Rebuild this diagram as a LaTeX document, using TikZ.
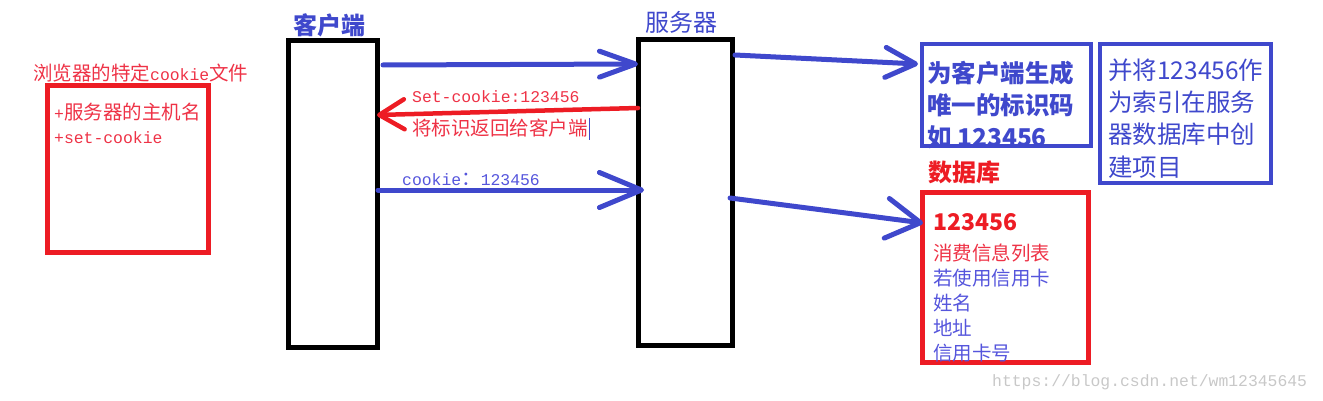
\documentclass[tikz,border=0pt]{standalone}
\usepackage{fontspec}
\newfontfamily\cjk{Noto Sans CJK SC}
\newfontfamily\lat{Liberation Mono}
\usetikzlibrary{arrows.meta}
\definecolor{pblue}{RGB}{63,72,204}
\definecolor{pred}{RGB}{237,28,36}
\definecolor{tred}{RGB}{238,50,70}
\definecolor{tblue}{RGB}{85,85,220}
\definecolor{wgray}{RGB}{200,200,200}
\newcommand{\sm}{\fontsize{19.5}{24}\selectfont\cjk}
\newcommand{\mn}[1]{{\fontsize{16.4}{24}\selectfont\lat #1}}
\tikzset{
  blackbox/.style={draw=black, line width=5pt, inner sep=0pt},
  redbox/.style={draw=pred, line width=5pt, inner sep=0pt},
  bluebox/.style={draw=pblue, line width=4.5pt, inner sep=0pt},
  txt/.style={anchor=west, inner sep=0pt},
  barrow/.style={draw=pblue, line width=5pt, line cap=round},
  rarrow/.style={draw=pred, line width=4.5pt, line cap=round},
}
\begin{document}
\begin{tikzpicture}[x=1pt,y=-1pt]
\useasboundingbox (0,0) rectangle (1323,401);
% boxes
\node[redbox, minimum width=161pt, minimum height=166pt] (cookiefile) at (127.5,169) {};
\node[blackbox, minimum width=89pt, minimum height=307pt] (client) at (333,194) {};
\node[blackbox, minimum width=94pt, minimum height=306pt] (server) at (685.5,192.5) {};
\node[bluebox, minimum width=169pt, minimum height=102pt] (gen) at (1006.5,95) {};
\node[bluebox, minimum width=171pt, minimum height=139pt] (idx) at (1185.5,113.5) {};
\node[redbox, minimum width=166pt, minimum height=170pt] (db) at (1005.5,277.5) {};
% texts
\node[txt, text=tred] (t1) at (33,73) {\sm 浏览器的特定\mn{cookie}文件};
\node[txt, text=tred] (t2) at (54,112) {\sm \mn{+}服务器的主机名};
\node[txt, text=tred] (t3) at (54,138) {\sm \mn{+set-cookie}};
\node[text=pblue, inner sep=0pt] (tc) at (329,25) {\fontsize{24}{28}\selectfont\cjk\bfseries 客户端};
\node[text=pblue, inner sep=0pt] (ts) at (681,22) {\fontsize{24}{28}\selectfont\cjk 服务器};
\node[txt, text=tred] (t4) at (412,97) {\sm \mn{Set-cookie:123456}};
\node[txt, text=tred] (t5) at (412,128) {\sm 将标识返回给客户端};
\node[txt, text=tblue] (t6) at (402,179) {\sm \mn{cookie}：\mn{123456}};
\node[txt, text=pblue, align=left, font={\fontsize{24.5}{32}\selectfont\cjk\bfseries}] (t7) at (927,105) {为客户端生成\\唯一的标识码\\如 123456};
\node[txt, text=pblue, align=left, font={\fontsize{24.5}{32.3}\selectfont\cjk}] (t8) at (1108,118.5) {并将123456作\\为索引在服务\\器数据库中创\\建项目};
\node[text=pred, inner sep=0pt] (tdb) at (964,172) {\fontsize{24}{28}\selectfont\cjk\bfseries 数据库};
\node[txt, text=pred] (t9) at (933,222) {\fontsize{23}{28}\selectfont\cjk\bfseries 123456};
\node[txt, text=tred] (t10) at (933,253) {\sm 消费信息列表};
\node[txt, text=tblue, align=left, font={\fontsize{19.5}{25}\selectfont\cjk}] (t11) at (933,315.5) {若使用信用卡\\姓名\\地址\\信用卡号};
\node[txt, text=wgray] (wm) at (992,382) {\mn{https://blog.csdn.net/wm12345645}};
% connector end points
\coordinate (a1s) at (383,65);
\coordinate (a1e) at (638,64);
\coordinate (a2s) at (638,108);
\coordinate (a2e) at (377,115);
\coordinate (a3s) at (378,190);
\coordinate (a3e) at (644,190);
\coordinate (a4s) at (735,55);
\coordinate (a4e) at (918,64);
\coordinate (a5s) at (730,198);
\coordinate (a5e) at (923,223);
% connectors
\draw[barrow, -{Straight Barb[length=36pt,width=26pt,round]}] (a1s) -- (a1e);
\draw[rarrow, -{Straight Barb[length=25pt,width=30pt,round]}] (a2s) -- (a2e);
\draw[barrow, -{Straight Barb[length=42pt,width=35pt,round]}] (a3s) -- (a3e);
\draw[barrow, -{Straight Barb[length=30pt,width=30pt,round]}] (a4s) -- (a4e);
\draw[barrow, -{Straight Barb[length=34pt,width=40pt,round]}] (a5s) -- (a5e);
% text cursor
\coordinate (cur1) at (589.5,118);
\coordinate (cur2) at (589.5,140);
\draw[pblue, line width=1pt] (cur1) -- (cur2);
\end{tikzpicture}
\end{document}
